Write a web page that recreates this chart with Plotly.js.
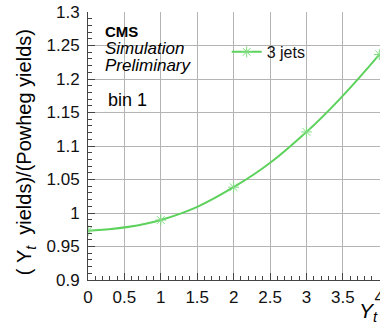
<!DOCTYPE html>
<html>
<head>
<meta charset="utf-8">
<script src="https://cdn.plot.ly/plotly-3.0.1.min.js"></script>
<style>
  html, body { margin: 0; padding: 0; background: #fff; overflow: hidden; }
  #chart { width: 380px; height: 326px; }
</style>
</head>
<body>
<div id="chart"></div>
<script>
// Yield ratio of the 3-jet sample versus Y_t (bin 1)
const ytValues = [0, 1, 2, 3, 4];
const yieldRatio = [0.9735, 0.9895, 1.0385, 1.121, 1.2365];
const seriesName = '3 jets';

const xTickVals = [0, 0.5, 1, 1.5, 2, 2.5, 3, 3.5, 4];
const xTickText = ['0', '0.5', '1', '1.5', '2', '2.5', '3', '3.5', '4'];
const yTickVals = [0.9, 0.95, 1, 1.05, 1.1, 1.15, 1.2, 1.25, 1.3];
const yTickText = ['0.9', '0.95', '1', '1.05', '1.1', '1.15', '1.2', '1.25', '1.3'];

const xRange = [0, 4.01];
const yRange = [0.9, 1.3];

const FONT = 'Liberation Sans, Arial, Helvetica, sans-serif';
const GREEN = '#5cd25c';
const AXIS = '#444444';
const GRID = '#b4b4b4';

const trace = {
  x: ytValues,
  y: yieldRatio,
  name: seriesName,
  type: 'scatter',
  mode: 'lines+markers',
  line: { color: GREEN, width: 2, shape: 'spline', smoothing: 1.2 },
  marker: {
    symbol: 'asterisk-open',
    size: 9,
    color: '#7fdc7f',
    line: { color: '#7fdc7f', width: 1 }
  }
};

function axis(range, vals, text, minorStep, standoff) {
  return {
    range: range,
    showline: true,
    linecolor: AXIS,
    linewidth: 1,
    ticks: 'inside',
    ticklen: 7,
    tickwidth: 1,
    tickcolor: AXIS,
    showgrid: true,
    gridcolor: GRID,
    gridwidth: 1,
    zeroline: false,
    tickmode: 'array',
    tickvals: vals,
    ticktext: text,
    ticklabelstandoff: standoff,
    ticklabeloverflow: 'allow',
    tickfont: { family: FONT, size: 17, color: '#111' },
    minor: { ticks: 'inside', ticklen: 4, tickcolor: AXIS, tick0: range[0], dtick: minorStep, showgrid: false }
  };
}

// white panels behind the text blocks and the legend, above the grid
function panel(x0, x1, y0, y1) {
  return { type: 'rect', xref: 'paper', yref: 'paper', x0: x0, x1: x1, y0: y0, y1: y1,
           fillcolor: '#ffffff', line: { width: 0 }, layer: 'between' };
}

const layout = {
  width: 380,
  height: 326,
  margin: { l: 88, r: 0, t: 12, b: 46 },
  paper_bgcolor: '#ffffff',
  plot_bgcolor: '#ffffff',
  showlegend: true,
  legend: {
    x: 0.475, xanchor: 'left',
    y: 0.851, yanchor: 'middle',
    bgcolor: 'rgba(0,0,0,0)',
    borderwidth: 0,
    itemwidth: 30,
    font: { family: FONT, size: 16, color: '#111' }
  },
  xaxis: axis(xRange, xTickVals, xTickText, 0.1, 2),
  yaxis: axis(yRange, yTickVals, yTickText, 0.01, 4),
  shapes: [
    panel(0.01, 0.238, 0.636, 0.99),
    panel(0.01, 0.369, 0.709, 0.978),
    panel(0.537, 0.866, 0.713, 0.981)
  ],
  annotations: [
    { text: 'CMS', xref: 'paper', yref: 'paper', x: 0.05, y: 0.928,
      xanchor: 'left', yanchor: 'middle', showarrow: false,
      font: { family: FONT, size: 15, color: '#000', weight: 'bold' } },
    { text: 'Simulation', xref: 'paper', yref: 'paper', x: 0.05, y: 0.865,
      xanchor: 'left', yanchor: 'middle', showarrow: false,
      font: { family: FONT, size: 17, color: '#000', style: 'italic' } },
    { text: 'Preliminary', xref: 'paper', yref: 'paper', x: 0.05, y: 0.8,
      xanchor: 'left', yanchor: 'middle', showarrow: false,
      font: { family: FONT, size: 17, color: '#000', style: 'italic' } },
    { text: 'bin 1', xref: 'paper', yref: 'paper', x: 0.06, y: 0.672,
      xanchor: 'left', yanchor: 'middle', showarrow: false,
      font: { family: FONT, size: 18, color: '#000' } },
    // y-axis title
    { text: '(&#160;Y<sub><i>t</i></sub>&#160;&#160;yields)/(Powheg yields)', xref: 'paper', yref: 'paper',
      x: -0.211, y: 0.478, xanchor: 'center', yanchor: 'middle', textangle: -90,
      showarrow: false, font: { family: FONT, size: 20, color: '#000' } },
    // x-axis title
    { text: '<i>Y</i><sub><i>t</i></sub>', xref: 'paper', yref: 'paper',
      x: 0.92, y: -0.065, xanchor: 'left', yanchor: 'top',
      showarrow: false, font: { family: FONT, size: 21, color: '#000' } }
  ]
};

Plotly.newPlot('chart', [trace], layout, { staticPlot: true, displayModeBar: false });
</script>
</body>
</html>
